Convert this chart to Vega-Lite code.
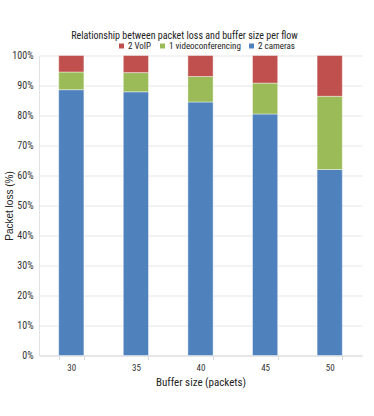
{
  "$schema": "https://vega.github.io/schema/vega-lite/v6.json",
  "autosize": "none",
  "width": 323,
  "height": 300,
  "padding": {"left": 39, "top": 55.5, "right": 12, "bottom": 60.5},
  "background": "white",
  "title": {
    "text": "Relationship between packet loss and buffer size per flow",
    "font": "Roboto Condensed",
    "fontSize": 10,
    "fontWeight": "normal",
    "color": "#222222",
    "anchor": "middle",
    "dx": -16,
    "offset": 1
  },
  "data": {
    "values": [
      {"buffer": "30", "flow": "2 cameras", "order": 1, "value": 88.6},
      {"buffer": "30", "flow": "1 videoconferencing", "order": 2, "value": 5.9},
      {"buffer": "30", "flow": "2 VoIP", "order": 3, "value": 5.5},
      {"buffer": "35", "flow": "2 cameras", "order": 1, "value": 87.9},
      {"buffer": "35", "flow": "1 videoconferencing", "order": 2, "value": 6.4},
      {"buffer": "35", "flow": "2 VoIP", "order": 3, "value": 5.7},
      {"buffer": "40", "flow": "2 cameras", "order": 1, "value": 84.5},
      {"buffer": "40", "flow": "1 videoconferencing", "order": 2, "value": 8.5},
      {"buffer": "40", "flow": "2 VoIP", "order": 3, "value": 7.0},
      {"buffer": "45", "flow": "2 cameras", "order": 1, "value": 80.5},
      {"buffer": "45", "flow": "1 videoconferencing", "order": 2, "value": 10.3},
      {"buffer": "45", "flow": "2 VoIP", "order": 3, "value": 9.2},
      {"buffer": "50", "flow": "2 cameras", "order": 1, "value": 62.0},
      {"buffer": "50", "flow": "1 videoconferencing", "order": 2, "value": 24.4},
      {"buffer": "50", "flow": "2 VoIP", "order": 3, "value": 13.6}
    ]
  },
  "mark": {"type": "bar", "stroke": "#ffffff", "strokeWidth": 0.6, "strokeOpacity": 0.7},
  "encoding": {
    "x": {
      "field": "buffer",
      "type": "ordinal",
      "title": "Buffer size (packets)",
      "scale": {"paddingInner": 0.61, "paddingOuter": 0.305},
      "axis": {
        "labelAngle": 0,
        "labelFont": "Roboto Condensed",
        "labelFontSize": 9,
        "labelColor": "#333333",
        "labelPadding": 4,
        "tickBand": "extent",
        "tickSize": 4,
        "tickColor": "#d9d9d9",
        "domainColor": "#d9d9d9",
        "titleFont": "Roboto Condensed",
        "titleFontSize": 11,
        "titleFontWeight": "normal",
        "titleColor": "#222222",
        "titlePadding": 4
      }
    },
    "y": {
      "field": "value",
      "type": "quantitative",
      "stack": "zero",
      "title": "Packet loss (%)",
      "scale": {"domain": [0, 100], "nice": false},
      "axis": {
        "values": [0, 10, 20, 30, 40, 50, 60, 70, 80, 90, 100],
        "labelExpr": "datum.value + '%'",
        "labelFont": "Roboto Condensed",
        "labelFontSize": 10,
        "labelColor": "#333333",
        "labelPadding": 6,
        "ticks": false,
        "domain": true,
        "domainColor": "#e3e3e3",
        "gridColor": "#e6e6e6",
        "gridWidth": 1,
        "titleFont": "Liberation Sans",
        "titleFontSize": 10,
        "titleFontWeight": "normal",
        "titleColor": "#222222",
        "titleX": -30,
        "titleY": 150,
        "titleAngle": -90,
        "titleAlign": "center",
        "titleBaseline": "middle"
      }
    },
    "color": {
      "field": "flow",
      "type": "nominal",
      "scale": {
        "domain": ["2 VoIP", "1 videoconferencing", "2 cameras"],
        "range": ["#C0504D", "#9BBB59", "#4F81BD"]
      },
      "legend": {
        "title": null,
        "orient": "none",
        "direction": "horizontal",
        "gridAlign": "none",
        "legendX": 78,
        "legendY": -14,
        "symbolType": "square",
        "symbolSize": 25,
        "symbolStrokeWidth": 0,
        "labelFont": "Roboto Condensed",
        "labelFontSize": 9,
        "labelColor": "#222222",
        "labelOffset": 2,
        "columnPadding": 6
      }
    },
    "order": {"field": "order", "type": "quantitative"}
  },
  "config": {
    "view": {"stroke": null}
  }
}
